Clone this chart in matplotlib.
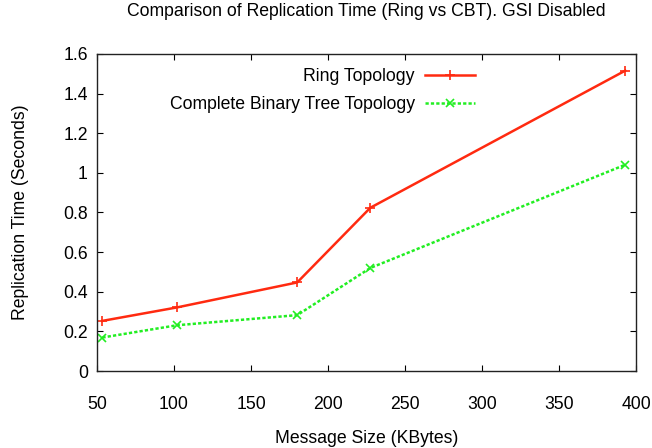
import numpy as np
import matplotlib
matplotlib.use('Agg')
import matplotlib.pyplot as plt

plt.rcParams['font.family'] = ['Liberation Sans', 'DejaVu Sans']
plt.rcParams['font.size'] = 12.7

# message size (KBytes)
msg_size = [53.5, 102, 180, 227.5, 393]
# replication time (seconds)
ring_time = [0.253, 0.321, 0.447, 0.824, 1.516]
cbt_time = [0.169, 0.231, 0.282, 0.520, 1.041]

xticks = [50, 100, 150, 200, 250, 300, 350, 400]
yticks = [0, 0.2, 0.4, 0.6, 0.8, 1.0, 1.2, 1.4, 1.6]
ytick_labels = ['0', '0.2', '0.4', '0.6', '0.8', '1', '1.2', '1.4', '1.6']

W, H = 652, 448
fig = plt.figure(figsize=(W/100, H/100), dpi=100)
ax = fig.add_axes([97/W, 1 - 371/H, 539/W, 317/H])

ax.plot(msg_size, ring_time, '-', color='#ff2a10', lw=1.8, marker='+',
        ms=7.5, mew=1.2, label='Ring Topology')
ax.plot(msg_size, cbt_time, color='#22ee22', lw=1.8, ls=(0, (1.3, 0.85)),
        marker='x', ms=6, mew=1.2, label='Complete Binary Tree Topology')

ax.set_xlim(50, 400)
ax.set_ylim(0, 1.6)
ax.set_xticks(xticks)
ax.set_yticks(yticks)
ax.set_yticklabels(ytick_labels)
ax.tick_params(direction='in', length=4.5, width=0.8, top=True, right=True)
ax.tick_params(axis='x', pad=18)
ax.tick_params(axis='y', pad=6.5)
for s in ax.spines.values():
    s.set_linewidth(1.0)
    s.set_color('#222222')

ax.set_xlabel('Message Size (KBytes)', labelpad=12)
ax.set_ylabel('Replication Time (Seconds)', labelpad=25)
fig.text(366.5/W, 1 - 12/H, 'Comparison of Replication Time (Ring vs CBT). GSI Disabled',
         ha='center', va='center')

leg = ax.legend(loc='upper right', bbox_to_anchor=(0.701, 0.955), frameon=False,
                markerfirst=False, handlelength=2.84, labelspacing=0.62,
                handletextpad=0.57, borderaxespad=0, borderpad=0)
for t in leg.get_texts():
    t.set_ha('right')

fig.savefig('out.png', dpi=100)
